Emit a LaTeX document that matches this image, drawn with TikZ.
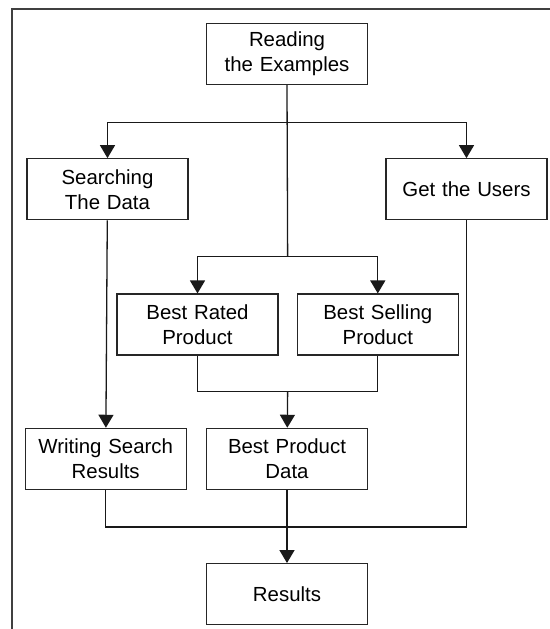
\documentclass[tikz,border=0pt]{standalone}
\usepackage{fontspec}
\setmainfont{Liberation Sans}
\usetikzlibrary{positioning, arrows.meta, calc}

\begin{document}
\begin{tikzpicture}[
    stage/.style={rectangle, draw=black!85, line width=0.65pt, text width=78pt,
                  minimum width=80.5pt, minimum height=30.5pt, align=center, inner sep=1pt,
                  font=\fontsize{10.2pt}{12.5pt}\selectfont},
    flow/.style={-{Triangle[length=6.5pt, width=7.5pt]}, black!90, line width=0.65pt},
    wire/.style={black!90, line width=0.65pt},
  ]
    \useasboundingbox (0,0) rectangle (275pt,-314.5pt);
    \draw[black!75, line width=0.7pt] (6pt,-314.5pt) -- (6pt,-4.5pt) -- (275pt,-4.5pt);

    \node[stage] (read) at (143.5pt,-27pt) {Reading\\the Examples};
    \node[stage, below=36.5pt of read, xshift=-89.75pt] (search) {Searching\\The Data};
    \node[stage, below=36.5pt of read, xshift=89.75pt] (users) {Get the Users};
    \node[stage, below=36.5pt of search, xshift=45pt] (rated) {Best Rated\\Product};
    \node[stage, right=9pt of rated] (selling) {Best Selling\\Product};
    \node[stage, below=36pt of rated, xshift=44.75pt] (bestdata) {Best Product\\Data};
    \node[stage, left=9.5pt of bestdata] (writing) {Writing Search\\Results};
    \node[stage, below=36.5pt of bestdata] (results) {Results};

    % branch points
    \coordinate (split) at ($(read.south)+(0,-18.5pt)$);
    \coordinate (fork) at ($(rated.north)!0.5!(selling.north)+(0,18.5pt)$);
    \coordinate (join) at ($(rated.south)!0.5!(selling.south)+(0,-18pt)$);
    \coordinate (gather) at ($(bestdata.south)+(0,-18.5pt)$);

    \draw[flow] (split) -| (search);
    \draw[flow] (split) -| (users);
    \draw[wire] (read.south) -- (fork);
    \draw[flow] (fork) -| (rated);
    \draw[flow] (fork) -| (selling);
    \draw[wire] (rated.south) |- (join) -| (selling.south);
    \draw[flow] (join) -- (bestdata);
    \draw[flow] (search) -- (writing);
    \draw[wire] (writing.south) |- (gather) -| (users.south);
    \draw[flow] (bestdata) -- (results);
  \end{tikzpicture}
\end{document}
